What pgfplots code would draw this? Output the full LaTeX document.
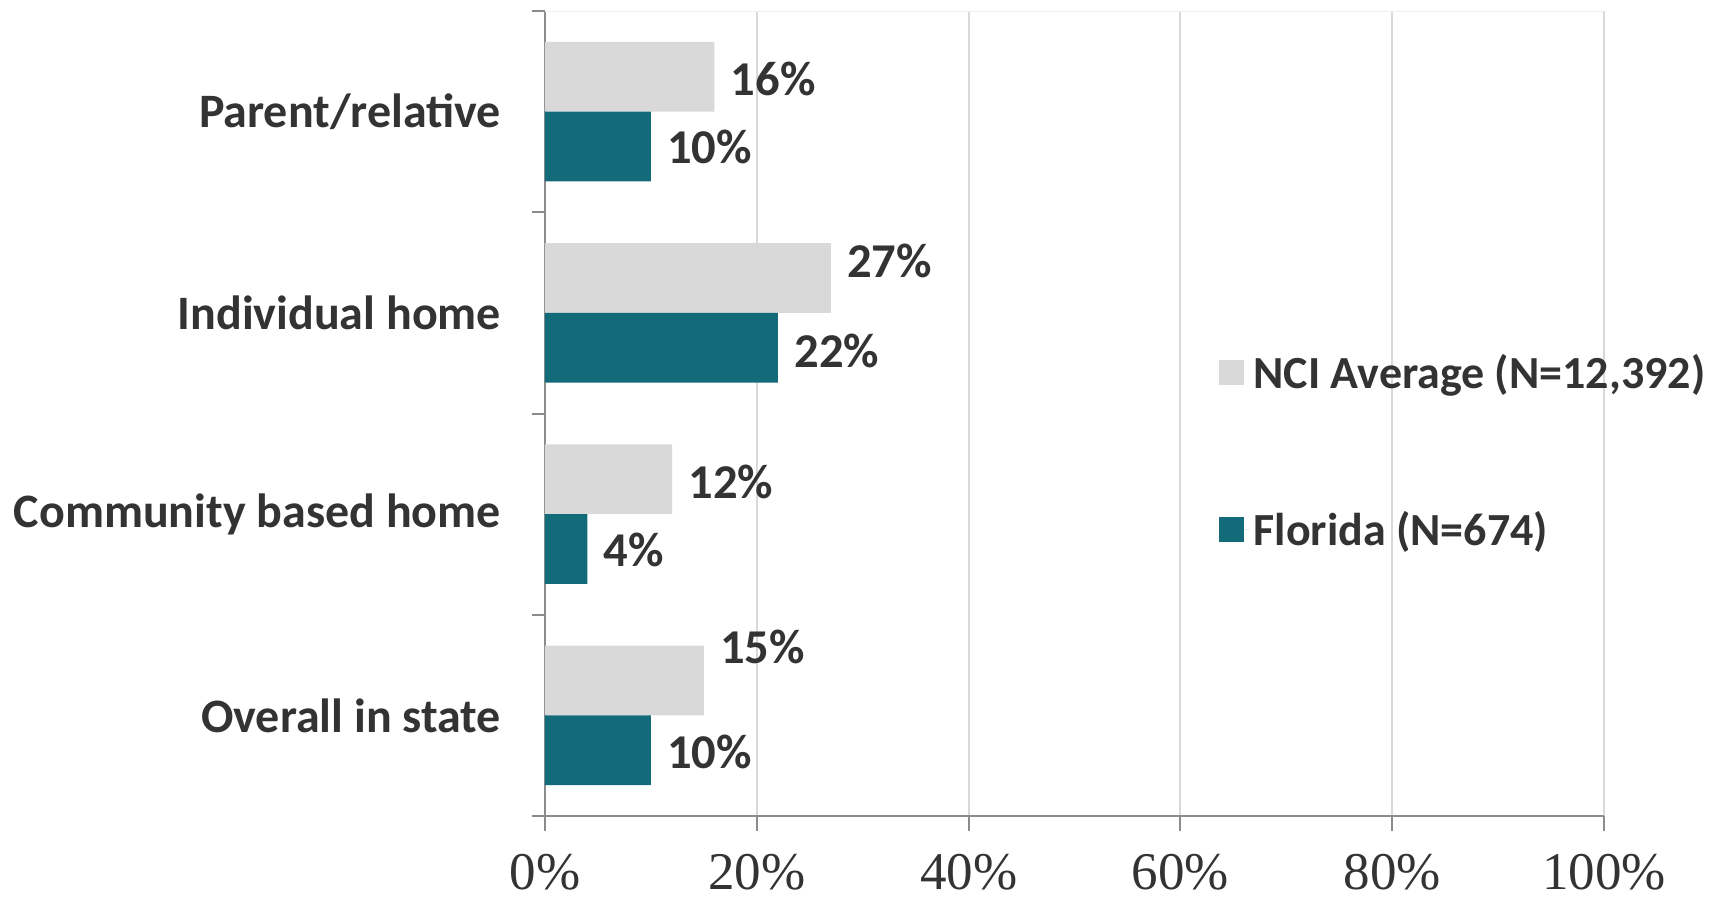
\documentclass[border=0pt]{standalone}
\usepackage{pgfplots}
\pgfplotsset{compat=1.18}
\usepackage{fontspec}
\setmainfont{Carlito}
\newfontfamily\serifticks{Liberation Serif}
\definecolor{barGray}{HTML}{D9D9D9}
\definecolor{barTeal}{HTML}{136A79}
\definecolor{txt}{HTML}{333333}
\definecolor{gridc}{HTML}{D9D9D9}
\definecolor{axc}{HTML}{8C8C8C}
\tikzset{lbl/.style={font=\bfseries\fontsize{24.3}{29}\selectfont, text=txt, inner sep=0pt, xshift=8pt, anchor=west}}
\begin{document}
\begin{tikzpicture}
\begin{axis}[name=ax, scale only axis, width=529.5pt, height=402.5pt,
 xmin=0, xmax=100, ymin=-0.5, ymax=3.5,
 xbar, bar width=0.346,
 axis x line*=bottom, axis y line*=left,
 axis line style={-, draw=axc, line width=1pt},
 xtick={0,20,40,60,80,100}, xticklabels={0\%,20\%,40\%,60\%,80\%,100\%},
 xticklabel style={font=\serifticks\fontsize{26.5}{31}\selectfont, text=txt, yshift=-8pt},
 xtick style={draw=axc, line width=1pt},
 tick align=outside, major tick length=7.5pt,
 xmajorgrids, grid style={gridc, line width=1pt},
 ytick={0,1,2,3}, yticklabels={Overall in state, Community based home, Individual home, Parent/relative},
 yticklabel style={font=\bfseries\fontsize{24}{29}\selectfont, text=txt, xshift=-11pt},
 ytick style={draw=none},
 extra y ticks={-0.5,0.5,1.5,2.5,3.5}, extra y tick labels={},
 extra y tick style={ytick style={draw=axc, line width=1pt}, major tick length=6.5pt},
 legend style={draw=none, fill=none, at={(rel axis cs:0.630,0.453)}, anchor=west,
   font=\bfseries\fontsize{23}{28}\selectfont, text=txt, row sep=56pt, legend cell align=left},
 legend image code/.code={\fill[#1,draw=none] (0pt,-6.25pt) rectangle (12.5pt,6.25pt); \path (0pt,0pt) -- (15.5pt,0pt);},
]
\addplot[fill=barGray, draw=none, bar shift=0.173] coordinates {(15,0) (12,1) (27,2) (16,3)};
\addlegendentry{NCI Average (N=12,392)}
\addplot[fill=barTeal, draw=none, bar shift=-0.173] coordinates {(10,0) (4,1) (22,2) (10,3)};
\addlegendentry{Florida (N=674)}
\draw[color={rgb,255:red,240;green,240;blue,240}, line width=1pt] (rel axis cs:0,1) -- (rel axis cs:1,1);
\node[lbl] at (axis cs:16,3.163) {16\%};
\node[lbl] at (axis cs:10,2.825) {10\%};
\node[lbl] at (axis cs:27,2.259) {27\%};
\node[lbl] at (axis cs:22,1.813) {22\%};
\node[lbl] at (axis cs:12,1.160) {12\%};
\node[lbl] at (axis cs:4,0.822) {4\%};
\node[lbl] at (axis cs:15,0.338) {15\%};
\node[lbl] at (axis cs:10,-0.184) {10\%};
\end{axis}
\pgfresetboundingbox
\path[use as bounding box] ([xshift=-272.5pt,yshift=-42pt]ax.south west) rectangle ([xshift=57pt,yshift=5.5pt]ax.north east);
\end{tikzpicture}
\end{document}
